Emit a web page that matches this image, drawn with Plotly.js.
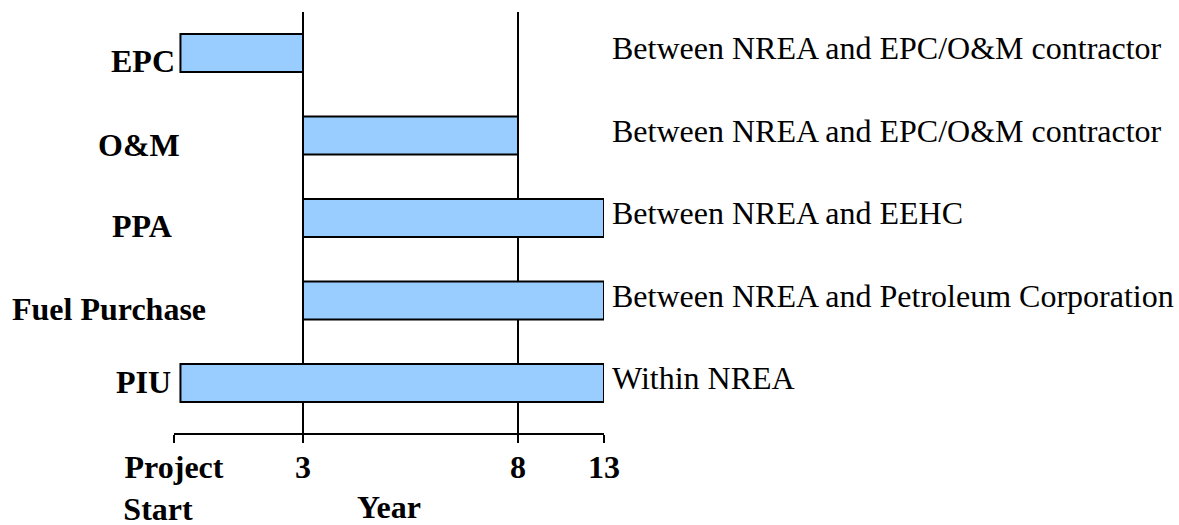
<!DOCTYPE html>
<html>
<head>
<meta charset="utf-8">
<script src="https://cdn.plot.ly/plotly-3.0.1.min.js"></script>
<style>html,body{margin:0;padding:0;background:#fff;}#chart{width:1179px;height:525px;}</style>
</head>
<body>
<div id="chart"></div>
<script>
// ---- data ----
const categories = ["EPC", "O&M", "PPA", "Fuel Purchase", "PIU"];
const startYear = [0.15, 3, 3, 3, 0.15];
const endYear = [3, 8, 10, 10, 10];
const parties = [
  "Between NREA and EPC/O&M contractor",
  "Between NREA and EPC/O&M contractor",
  "Between NREA and EEHC",
  "Between NREA and Petroleum Corporation",
  "Within NREA"
];
const tickPositions = [0, 3, 8, 10];
const tickLabels = ["Project<br>Start\u00a0\u00a0\u00a0\u00a0", "3", "8", "13"];
const milestoneYears = [3, 8];

// ---- styling / placement ----
const serif = '"Liberation Serif", "Times New Roman", Times, serif';
const boldFont = {family: serif, size: 32, color: "#000", weight: "bold"};
const plainFont = {family: serif, size: 32, color: "#000"};
const catLabelShift = {
  "EPC": [-31, -8], "O&M": [-35, -9], "PPA": [-32, -8],
  "Fuel Purchase": [-65, -8], "PIU": [-31, 1]
};

const durations = endYear.map((e, i) => e - startYear[i]);

const trace = {
  type: "bar",
  orientation: "h",
  y: categories,
  x: durations,
  base: startYear,
  width: 0.46,
  marker: {color: "#99CCFF", line: {color: "#000", width: 2}},
  hoverinfo: "skip",
  showlegend: false
};

const annotations = [];
categories.forEach((c, i) => {
  annotations.push({
    xref: "paper", yref: "y", x: 0, y: c,
    xanchor: "center", yanchor: "middle",
    xshift: catLabelShift[c][0], yshift: catLabelShift[c][1],
    text: c, showarrow: false, font: boldFont
  });
  annotations.push({
    xref: "paper", yref: "y", x: 1, y: c,
    xanchor: "left", yanchor: "middle",
    xshift: 6, yshift: 5,
    text: parties[i], showarrow: false, font: plainFont
  });
});

const shapes = milestoneYears.map(v => ({
  type: "line", layer: "below", xref: "x", yref: "paper",
  x0: v, x1: v, y0: 0, y1: 1,
  line: {color: "#000", width: 2}
}));

const layout = {
  width: 1179, height: 525,
  margin: {l: 174, r: 575, t: 12, b: 92, pad: 0},
  paper_bgcolor: "#fff", plot_bgcolor: "#fff",
  xaxis: {
    range: [0, 10],
    tickmode: "array", tickvals: tickPositions, ticktext: tickLabels,
    ticks: "outside", ticklen: 8, tickwidth: 2, tickcolor: "#000",
    showline: true, linewidth: 2, linecolor: "#000",
    showgrid: false, zeroline: false,
    tickfont: boldFont,
    ticklabelstandoff: -3,
    title: {text: "Year", font: boldFont, standoff: 0}
  },
  yaxis: {
    type: "category", categoryorder: "array", categoryarray: categories,
    range: [4.606, -0.497],
    showticklabels: false, showgrid: false, zeroline: false, showline: false, ticks: ""
  },
  shapes: shapes,
  annotations: annotations
};

Plotly.newPlot("chart", [trace], layout, {displayModeBar: false, staticPlot: true});
</script>
</body>
</html>
